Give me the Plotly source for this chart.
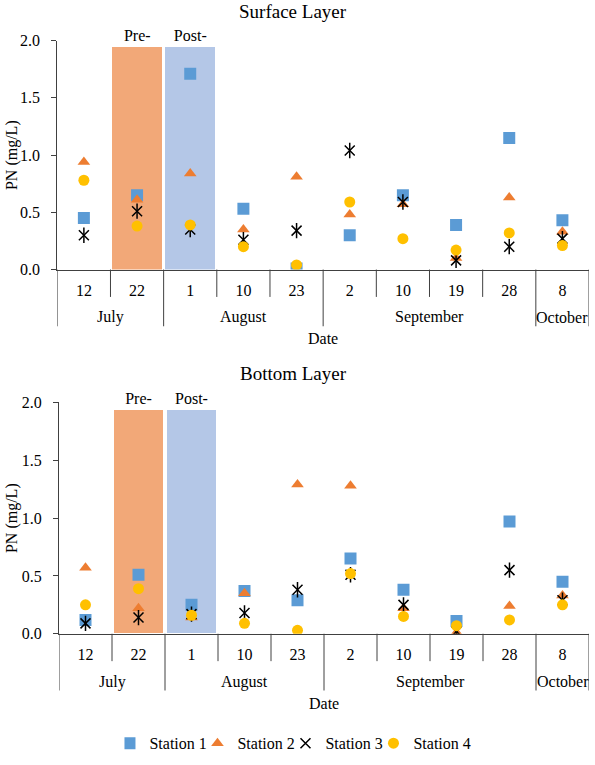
import plotly.graph_objects as go

# ---------------- data ----------------
days = ["12", "22", "1", "10", "23", "2", "10", "19", "28", "8"]
months = ["July", "July", "August", "August", "August",
          "September", "September", "September", "September", "October"]
stations = ["Station 1", "Station 2", "Station 3", "Station 4"]

surface_s1 = [0.45, 0.65, 1.71, 0.53, 0.01, 0.30, 0.65, 0.39, 1.15, 0.43]
surface_s2 = [0.94, 0.61, 0.84, 0.35, 0.81, 0.48, 0.57, 0.10, 0.63, 0.33]
surface_s3 = [0.30, 0.51, 0.35, 0.26, 0.34, 1.04, 0.59, 0.08, 0.20, 0.27]
surface_s4 = [0.78, 0.38, 0.39, 0.20, 0.04, 0.59, 0.27, 0.17, 0.32, 0.21]

bottom_s1 = [0.12, 0.51, 0.25, 0.37, 0.29, 0.65, 0.38, 0.11, 0.97, 0.45]
bottom_s2 = [0.57, 0.22, 0.14, 0.35, 1.29, 1.28, 0.22, 0.01, 0.24, 0.33]
bottom_s3 = [0.09, 0.14, 0.17, 0.18, 0.38, 0.51, 0.25, 0.02, 0.55, 0.29]
bottom_s4 = [0.25, 0.39, 0.16, 0.09, 0.03, 0.52, 0.15, 0.07, 0.12, 0.25]

period_labels = ["Pre-", "Post-"]
period_pos = [1, 2]
surface_period = [1.95, 1.95]
bottom_period = [1.93, 1.93]

# ---------------- styling ----------------
W, H = 595, 765
FONT = "Liberation Serif"
AX = "#404040"
period_colors = ["#F2A878", "#B4C7E7"]
st_colors = ["#5B9BD5", "#ED7D31", "#000000", "#FFC000"]


def py(p):
    return 1 - p / H


def px(p):
    return p / W


panels = [
    dict(title="Surface Layer", title_y=4, x0=57.3, x1=589, top=33.3, axis=267.5,
         series=[surface_s1, surface_s2, surface_s3, surface_s4], period=surface_period),
    dict(title="Bottom Layer", title_y=374, x0=59, x1=589, top=403.3, axis=640,
         series=[bottom_s1, bottom_s2, bottom_s3, bottom_s4], period=bottom_period),
]

x = list(range(len(days)))
fig = go.Figure()
shapes = []
annotations = []

for k, p in enumerate(panels):
    xa = "x" if k == 0 else "x2"
    ya = "y" if k == 0 else "y2"
    showleg = k == 0
    fig.add_trace(go.Bar(
        x=period_pos, y=p["period"], width=0.94,
        marker=dict(color=period_colors, line=dict(width=0)),
        text=period_labels, textposition="outside", cliponaxis=False,
        textfont=dict(family=FONT, size=16, color="black"),
        showlegend=False, xaxis=xa, yaxis=ya, hoverinfo="skip"))
    s1, s2, s3, s4 = p["series"]
    fig.add_trace(go.Scatter(
        x=x, y=s1, mode="markers", name=stations[0], legendgroup="s1", showlegend=showleg,
        marker=dict(symbol="square", size=12, color=st_colors[0]), xaxis=xa, yaxis=ya))
    fig.add_trace(go.Scatter(
        x=x, y=s2, mode="markers", name=stations[1], legendgroup="s2", showlegend=showleg,
        marker=dict(symbol="triangle-up", size=11, color=st_colors[1]), xaxis=xa, yaxis=ya))
    fig.add_trace(go.Scatter(
        x=x, y=s3, mode="markers", name=stations[2], legendgroup="s3", showlegend=showleg,
        marker=dict(symbol="x-thin-open", size=10, color=st_colors[2],
                    line=dict(width=1.5, color=st_colors[2])), xaxis=xa, yaxis=ya))
    fig.add_trace(go.Scatter(
        x=x, y=s3, mode="markers", name=stations[2], legendgroup="s3", showlegend=False,
        marker=dict(symbol="line-ns-open", size=11, color=st_colors[2],
                    line=dict(width=1.5, color=st_colors[2])), xaxis=xa, yaxis=ya))
    fig.add_trace(go.Scatter(
        x=x, y=s4, mode="markers", name=stations[3], legendgroup="s4", showlegend=showleg,
        marker=dict(symbol="circle", size=11, color=st_colors[3]), xaxis=xa, yaxis=ya))

    xname = "xaxis" if k == 0 else "xaxis2"
    yname = "yaxis" if k == 0 else "yaxis2"
    fig.layout[xname] = dict(
        domain=[px(p["x0"]), px(p["x1"])], anchor=ya, range=[-0.5, len(days) - 0.5],
        tickmode="array", tickvals=x, ticktext=days, ticks="", showgrid=False,
        zeroline=False, showline=True, linecolor=AX, linewidth=1,
        tickfont=dict(family=FONT, size=16, color="black"), ticklabelstandoff=6)
    fig.layout[yname] = dict(
        domain=[py(p["axis"]), py(p["top"])], anchor=xa, range=[0, 2], dtick=0.5,
        tickformat=".1f", ticks="outside", ticklen=5, tickcolor=AX, showgrid=False,
        zeroline=False, showline=True, linecolor=AX, linewidth=1,
        tickfont=dict(family=FONT, size=16, color="black"), ticklabelstandoff=8)

    ax_p = py(p["axis"])
    day_end = py(p["axis"] + 28)
    mon_end = py(p["axis"] + 58)
    for i in range(1, len(days)):
        if months[i] == months[i - 1]:
            shapes.append(dict(type="line", xref=xa, yref="paper", x0=i - 0.5, x1=i - 0.5,
                               y0=ax_p, y1=day_end, line=dict(color=AX, width=1)))
    bounds = [0] + [i for i in range(1, len(days)) if months[i] != months[i - 1]] + [len(days)]
    for b in bounds:
        shapes.append(dict(type="line", xref=xa, yref="paper", x0=b - 0.5, x1=b - 0.5,
                           y0=ax_p, y1=mon_end, line=dict(color=AX, width=1)))
    for a, b in zip(bounds[:-1], bounds[1:]):
        annotations.append(dict(text=months[a], xref=xa, yref="paper", x=(a + b - 1) / 2,
                                y=py(p["axis"] + 49), showarrow=False, yanchor="middle",
                                font=dict(family=FONT, size=16, color="black")))
    annotations.append(dict(text="Date", xref="paper", yref="paper",
                            x=px((p["x0"] + p["x1"]) / 2), y=py(p["axis"] + 71),
                            showarrow=False, yanchor="middle",
                            font=dict(family=FONT, size=16, color="black")))
    annotations.append(dict(text="PN (mg/L)", xref="paper", yref="paper", textangle=-90,
                            x=px(12), y=py((p["axis"] + p["top"]) / 2), showarrow=False,
                            xanchor="center", yanchor="middle",
                            font=dict(family=FONT, size=16, color="black")))
    annotations.append(dict(text=p["title"], xref="paper", yref="paper", x=px(293),
                            y=py(p["title_y"]), showarrow=False, yanchor="middle",
                            font=dict(family=FONT, size=19, color="black")))

fig.update_layout(
    width=W, height=H, margin=dict(l=0, r=0, t=0, b=0, pad=0),
    paper_bgcolor="white", plot_bgcolor="white", bargap=0,
    font=dict(family=FONT, size=16, color="black"),
    shapes=shapes, annotations=annotations,
    legend=dict(orientation="h", x=0.505, xanchor="center", y=py(752), yanchor="middle",
                font=dict(family=FONT, size=16, color="black"), itemwidth=30,
                indentation=-15, entrywidth=58, bgcolor="rgba(0,0,0,0)"),
)

fig.write_html("out.html")
